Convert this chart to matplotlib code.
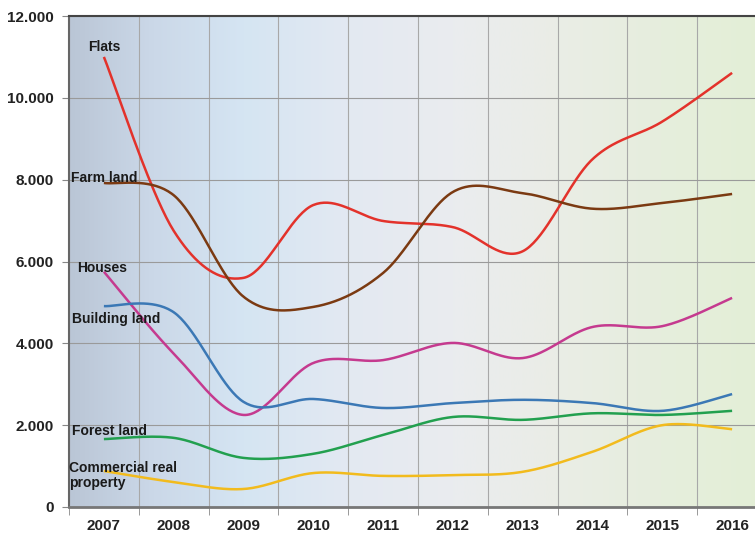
import numpy as np
import matplotlib.pyplot as plt
from matplotlib.colors import LinearSegmentedColormap

years = [2007, 2008, 2009, 2010, 2011, 2012, 2013, 2014, 2015, 2016]

flats = [11000, 6750, 5600, 7380, 6990, 6840, 6250, 8500, 9420, 10610]
farm_land = [7920, 7620, 5140, 4890, 5720, 7700, 7670, 7290, 7430, 7650]
houses = [5750, 3750, 2250, 3520, 3590, 4010, 3640, 4400, 4420, 5110]
building_land = [4910, 4760, 2570, 2640, 2420, 2540, 2620, 2540, 2350, 2760]
forest_land = [1660, 1690, 1200, 1300, 1760, 2200, 2130, 2290, 2250, 2350]
commercial = [880, 610, 440, 830, 760, 780, 860, 1350, 2000, 1900]

series = [
    ("Flats", flats, "#e3322b", (-0.22, 11250)),
    ("Farm land", farm_land, "#7b3a12", (-0.47, 8050)),
    ("Houses", houses, "#c53a8f", (-0.38, 5850)),
    ("Building land", building_land, "#3b78b5", (-0.45, 4600)),
    ("Forest land", forest_land, "#22a04f", (-0.45, 1850)),
    ("Commercial real\nproperty", commercial, "#f2bb1d", (-0.5, 770)),
]


def smooth(xs, ys, n=40):
    # uniform Catmull-Rom spline through every point
    p = np.column_stack([xs, ys]).astype(float)
    p = np.vstack([p[0], p, p[-1]])
    out = []
    t = np.linspace(0, 1, n)[:, None]
    for i in range(1, len(p) - 2):
        p0, p1, p2, p3 = p[i - 1], p[i], p[i + 1], p[i + 2]
        seg = 0.5 * ((2 * p1) + (-p0 + p2) * t
                     + (2 * p0 - 5 * p1 + 4 * p2 - p3) * t ** 2
                     + (-p0 + 3 * p1 - 3 * p2 + p3) * t ** 3)
        out.append(seg if i == 1 else seg[1:])
    out = np.vstack(out)
    return out[:, 0], out[:, 1]


plt.rcParams['font.family'] = ['Liberation Sans', 'DejaVu Sans']

fig = plt.figure(figsize=(7.55, 5.35), dpi=100)
ax = fig.add_axes([69 / 755, 28 / 535, 698 / 755, 491 / 535])

# background gradient: slate blue on the left fading to pale green on the right
bg = LinearSegmentedColormap.from_list("bg", [
    (0.0, "#bac6d6"), (0.12, "#cbd8e8"), (0.25, "#d5e5f3"),
    (0.4, "#e3e9f2"), (0.55, "#eaecef"), (0.7, "#eaede6"),
    (0.85, "#e6eedd"), (1.0, "#e3efd6")])
ax.imshow(np.linspace(0, 1, 256)[None, :], cmap=bg, aspect="auto",
          extent=[-0.5, 9.5, 0, 12000], zorder=0)

x = np.arange(len(years))
for label, vals, color, (lx, ly) in series:
    sx, sy = smooth(x, vals)
    ax.plot(sx, sy, color=color, lw=1.8, zorder=3, solid_capstyle="butt")
    ax.text(lx, ly, label, fontsize=10, fontweight="bold", color="#1a1a1a",
            va="center", ha="left", zorder=4, linespacing=1.1)

ax.set_xlim(-0.5, 9.5)
ax.set_ylim(0, 12000)

ax.set_xticks(x)
ax.set_xticklabels(years, fontsize=11, fontweight="bold", color="#222222")
ax.set_xticks(np.arange(-0.5, 9.6, 1), minor=True)
ax.tick_params(axis="x", which="major", length=0, pad=9)
ax.tick_params(axis="x", which="minor", length=6, color="#888888")

yt = np.arange(0, 12001, 2000)
ax.set_yticks(yt)
ax.set_yticklabels([f"{v:,}".replace(",", ".") for v in yt],
                   fontsize=11, fontweight="bold", color="#222222")
ax.tick_params(axis="y", length=5, color="#888888", pad=6)

ax.grid(axis="y", color="#9a9a9a", lw=0.8, zorder=1)
ax.grid(axis="x", which="minor", color="#a8a8a8", lw=0.8, zorder=1)
ax.grid(axis="x", which="major", visible=False)
ax.set_axisbelow(True)

ax.spines["left"].set_color("#666666")
ax.spines["left"].set_linewidth(1.5)
ax.spines["bottom"].set_color("#777777")
ax.spines["bottom"].set_linewidth(2)
ax.spines["top"].set_color("#444444")
ax.spines["top"].set_linewidth(1.5)
ax.spines["right"].set_visible(False)

fig.savefig("out.png", dpi=100)
